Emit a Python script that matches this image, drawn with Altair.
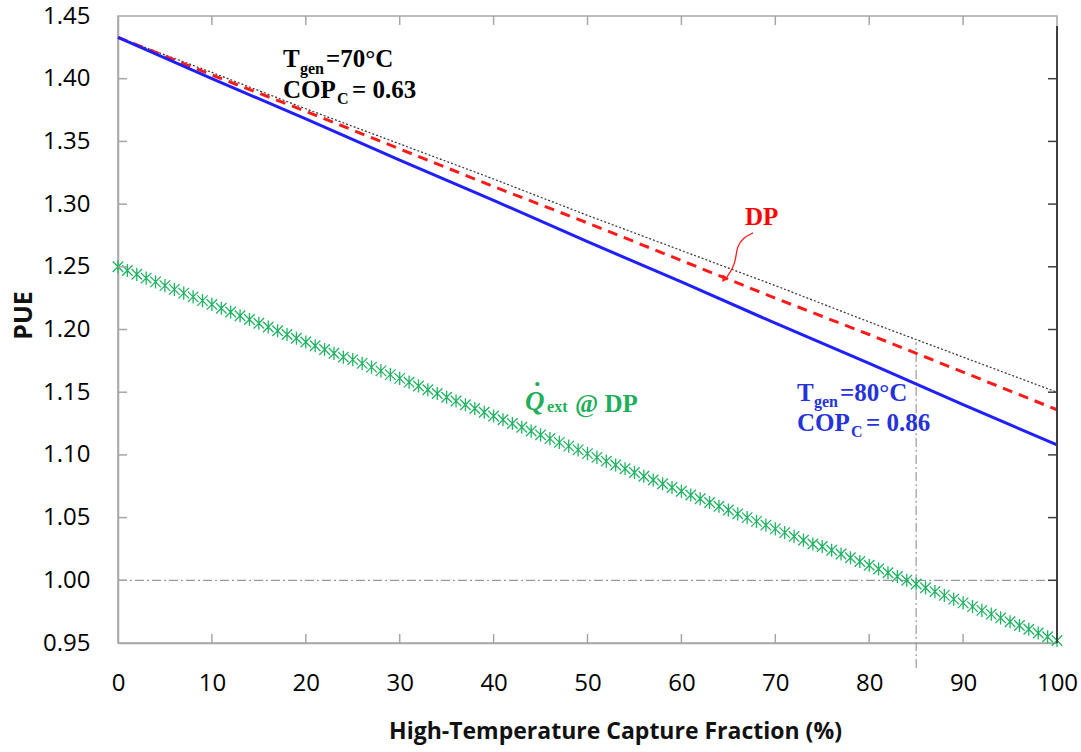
import altair as alt
import pandas as pd

# High-temperature capture fraction (%) and PUE for each configuration
capture = [0, 10, 20, 30, 40, 50, 60, 70, 80, 90, 100]
pue_tgen70 = [1.433, 1.405, 1.376, 1.348, 1.320, 1.291, 1.263, 1.235, 1.206, 1.178, 1.150]
pue_dp = [1.433, 1.403, 1.374, 1.344, 1.314, 1.285, 1.255, 1.225, 1.196, 1.166, 1.136]
pue_tgen80 = [1.433, 1.400, 1.368, 1.335, 1.303, 1.270, 1.238, 1.205, 1.173, 1.140, 1.108]

# Q_ext @ DP series, one marker per percent
capture_fine = list(range(101))
pue_qext = [
    1.250, 1.247, 1.244, 1.241, 1.238, 1.235, 1.232, 1.229, 1.226, 1.223,
    1.220, 1.217, 1.214, 1.211, 1.208, 1.205, 1.202, 1.199, 1.196, 1.193,
    1.190, 1.187, 1.184, 1.181, 1.178, 1.176, 1.173, 1.170, 1.167, 1.164,
    1.161, 1.158, 1.155, 1.152, 1.149, 1.146, 1.143, 1.140, 1.137, 1.134,
    1.131, 1.128, 1.125, 1.122, 1.119, 1.116, 1.113, 1.110, 1.107, 1.104,
    1.101, 1.098, 1.095, 1.092, 1.089, 1.086, 1.083, 1.080, 1.077, 1.074,
    1.071, 1.068, 1.065, 1.062, 1.059, 1.056, 1.053, 1.050, 1.047, 1.044,
    1.041, 1.038, 1.035, 1.032, 1.029, 1.027, 1.024, 1.021, 1.018, 1.015,
    1.012, 1.009, 1.006, 1.003, 1.000, 0.997, 0.994, 0.991, 0.988, 0.985,
    0.982, 0.979, 0.976, 0.973, 0.970, 0.967, 0.964, 0.961, 0.958, 0.955,
    0.952,
]

x_ticks = [0, 10, 20, 30, 40, 50, 60, 70, 80, 90, 100]
y_ticks = [0.95, 1.00, 1.05, 1.10, 1.15, 1.20, 1.25, 1.30, 1.35, 1.40, 1.45]

# Guide lines: PUE = 1 and the break-even capture fraction
pue_unity = 1.00
breakeven_capture = 85
breakeven_span = [0.93, 1.19]

# Annotation text pieces: (x, y, text, colour)
labels_main = [
    (17.57, 1.409, "T", "#000000"),
    (22.15, 1.409, "=70°C", "#000000"),
    (17.57, 1.385, "COP", "#000000"),
    (24.92, 1.385, "= 0.63", "#000000"),
    (72.31, 1.143, "T", "#2633d9"),
    (76.89, 1.143, "=80°C", "#2633d9"),
    (72.31, 1.119, "COP", "#2633d9"),
    (79.66, 1.119, "= 0.86", "#2633d9"),
    (66.77, 1.283, "DP", "#ff0000"),
    (48.67, 1.134, "@ DP", "#1fae5b"),
]
labels_sub = [
    (19.38, 1.404, "gen", "#000000"),
    (23.32, 1.380, "C", "#000000"),
    (74.12, 1.138, "gen", "#2633d9"),
    (78.06, 1.114, "C", "#2633d9"),
    (45.69, 1.134, "ext", "#1fae5b"),
]
label_q = [(43.34, 1.136, "Q", "#1fae5b")]
label_q_dot = [(44.30, 1.155, ".", "#1fae5b")]

# Curved pointer from the "DP" label to its curve
pointer_x = [67.62, 66.56, 65.92, 65.81, 65.50, 64.86]
pointer_y = [1.277, 1.273, 1.266, 1.257, 1.249, 1.242]
pointer_head = (64.54, 1.240)

W, H = 939, 627
axis_font = "Open Sans"
serif = "Liberation Serif"

x_enc = alt.X(
    "x:Q",
    scale=alt.Scale(domain=[0, 100], nice=False, zero=False),
    axis=alt.Axis(
        values=x_ticks, title="High-Temperature Capture Fraction (%)",
        ticks=False, labelPadding=47, labelBaseline="alphabetic",
        labelFontSize=24, labelFont=axis_font, labelColor="#000000",
        titleFont=axis_font, titleFontSize=23, titleFontWeight="bold",
        titleColor="#111111", titleX=497, titleY=95, titleAlign="center",
        titleBaseline="alphabetic", domainColor="#a6a6a6", domainWidth=1.5,
        labelFlush=False, labelOverlap=False,
    ),
)
y_enc = alt.Y(
    "y:Q",
    scale=alt.Scale(domain=[0.95, 1.45], nice=False, zero=False),
    axis=alt.Axis(
        values=y_ticks, format=".2f", title="PUE",
        ticks=False, labelPadding=28, labelFontSize=24, labelFont=axis_font,
        labelColor="#000000", labelBaseline="middle",
        titleFont=axis_font, titleFontSize=25, titleFontWeight="bold",
        titleColor="#111111", titleX=-95, titleY=299, titleAngle=-90,
        titleAlign="center", titleBaseline="middle",
        domainColor="#a6a6a6", domainWidth=1.5,
        labelFlush=False, labelOverlap=False,
    ),
)


def series(xs, ys):
    return pd.DataFrame({"x": xs, "y": ys})


line70 = alt.Chart(series(capture, pue_tgen70)).mark_line(
    color="#333333", strokeWidth=1.2, strokeDash=[2, 2]
).encode(x=x_enc, y=y_enc)

line80 = alt.Chart(series(capture, pue_tgen80)).mark_line(
    color="#1f1fff", strokeWidth=3
).encode(x=x_enc, y=y_enc)

line_dp = alt.Chart(series(capture, pue_dp)).mark_line(
    color="#ff1a1a", strokeWidth=3, strokeDash=[10, 7]
).encode(x=x_enc, y=y_enc)

asterisk = "M-1,-1L1,1M-1,1L1,-1M0,-1.25L0,1.25"
qext = alt.Chart(series(capture_fine, pue_qext)).mark_point(
    shape=asterisk, filled=False, size=110, strokeWidth=1.3, color="#22b362", opacity=1
).encode(x=x_enc, y=y_enc)

guide_h = alt.Chart(pd.DataFrame({"x": [0], "x2": [100], "y": [pue_unity]})).mark_rule(
    color="#9a9a9a", strokeWidth=1.2, strokeDash=[9, 3, 2, 3]
).encode(x=x_enc, x2="x2:Q", y=y_enc)

guide_v = alt.Chart(pd.DataFrame({"x": [breakeven_capture], "y": [breakeven_span[0]],
                                  "y2": [breakeven_span[1]]})).mark_rule(
    color="#9a9a9a", strokeWidth=1.2, strokeDash=[9, 3, 2, 3]
).encode(x=x_enc, y=y_enc, y2="y2:Q")

# Inward tick marks on all four sides of the frame
ytick_df = pd.DataFrame({"y": y_ticks[1:-1]})
xtick_df = pd.DataFrame({"x": x_ticks[1:-1]})
ticks_left = alt.Chart(ytick_df).mark_rule(color="#a6a6a6", strokeWidth=1.5).encode(
    y=y_enc, x=alt.value(0), x2=alt.value(9))
ticks_right = alt.Chart(ytick_df).mark_rule(color="#404040", strokeWidth=1.5).encode(
    y=y_enc, x=alt.value(W), x2=alt.value(W - 9))
ticks_bottom = alt.Chart(xtick_df).mark_rule(color="#a6a6a6", strokeWidth=1.5).encode(
    x=x_enc, y=alt.value(H), y2=alt.value(H - 9))
ticks_top = alt.Chart(xtick_df).mark_rule(color="#a6a6a6", strokeWidth=1.5).encode(
    x=x_enc, y=alt.value(0), y2=alt.value(9))
right_border = alt.Chart(pd.DataFrame({"y": [1.0]})).mark_rule(
    color="#404040", strokeWidth=2).encode(x=alt.value(W), y=alt.value(10), y2=alt.value(H))


def text_df(rows):
    return pd.DataFrame(rows, columns=["x", "y", "t", "c"])


def text_layer(rows, size, style="normal"):
    return alt.Chart(text_df(rows)).mark_text(
        font=serif, fontSize=size, fontWeight="bold", fontStyle=style,
        align="left", baseline="alphabetic"
    ).encode(x=x_enc, y=y_enc, text="t:N", color=alt.Color("c:N", scale=None))


txt_main = text_layer(labels_main, 25)
txt_sub = text_layer(labels_sub, 16)
txt_q = text_layer(label_q, 27, "italic")
txt_dot = text_layer(label_q_dot, 26)

pointer = alt.Chart(pd.DataFrame({"x": pointer_x, "y": pointer_y,
                                  "o": list(range(len(pointer_x)))})).mark_line(
    color="#ff1a1a", strokeWidth=1.3, interpolate="basis"
).encode(x=x_enc, y=y_enc, order="o:Q")
pointer_tip = alt.Chart(pd.DataFrame({"x": [pointer_head[0]], "y": [pointer_head[1]]})).mark_point(
    shape="triangle-down", filled=True, size=55, angle=34, color="#ff1a1a", opacity=1
).encode(x=x_enc, y=y_enc)

chart = alt.layer(
    guide_h, guide_v, line70, line_dp, line80, qext,
    ticks_left, ticks_right, ticks_bottom, ticks_top, right_border,
    pointer, pointer_tip, txt_main, txt_sub, txt_q, txt_dot,
).properties(
    width=W, height=H,
    autosize=alt.AutoSizeParams(type="none"),
    padding={"left": 118, "top": 16, "right": 24, "bottom": 109},
    background="white",
).configure_view(
    stroke="#a6a6a6", strokeWidth=1.5
).configure_axis(grid=False)

chart.save("out.html", embed_options={"renderer": "svg", "actions": False})
